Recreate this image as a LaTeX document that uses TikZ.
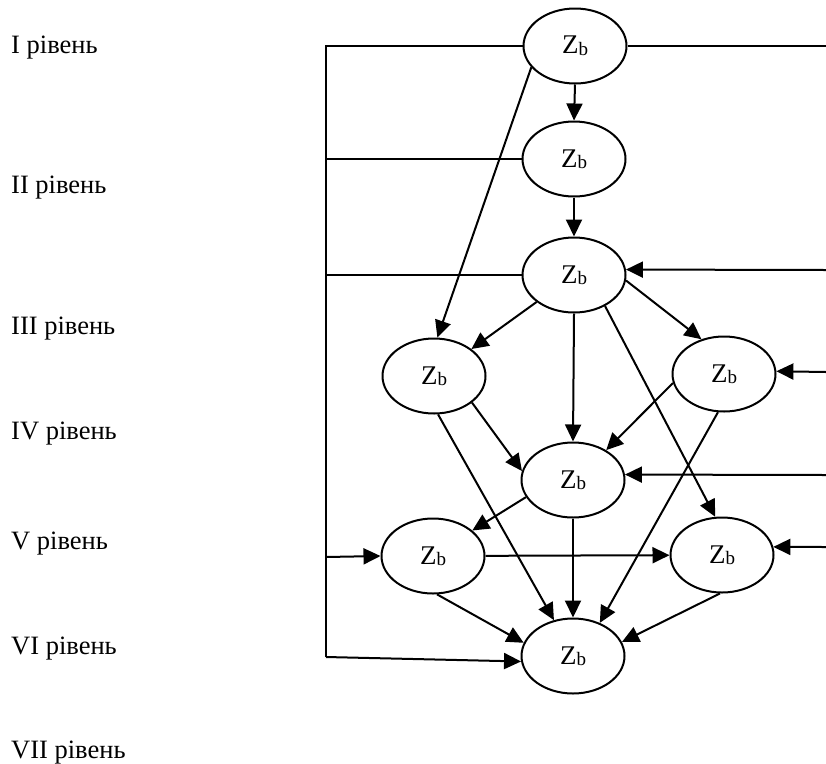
\documentclass[tikz,border=0pt]{standalone}
\usepackage{fontspec}
\setmainfont{Liberation Serif}
\usetikzlibrary{shapes.geometric,arrows.meta}
\newcommand\Zsub{Z\raisebox{-1.5pt}{\fontsize{19}{19}\selectfont b}}
\begin{document}
\begin{tikzpicture}[x=1pt,y=-1pt,
  zb/.style={ellipse,draw,line width=2pt,minimum width=103pt,minimum height=75pt,inner sep=0pt,font=\fontsize{27}{30}\selectfont},
  conn/.style={line width=2pt},
  arr/.style={line width=2pt,-{Triangle[length=17pt,width=16pt]}},
  lvl/.style={anchor=base west,font=\fontsize{26.5}{30}\selectfont,inner sep=0pt}]
\useasboundingbox (0,0) rectangle (826,763);

% level labels
\node[lvl] (l1) at (11,53) {I рівень};
\node[lvl] (l2) at (11,193) {II рівень};
\node[lvl] (l3) at (11,334) {III рівень};
\node[lvl] (l4) at (11,439) {IV рівень};
\node[lvl] (l5) at (11,549) {V рівень};
\node[lvl] (l6) at (11,654) {VI рівень};
\node[lvl] (l7) at (11,758) {VII рівень};

% ellipses
\node[zb] (e1) at (575,46) {\Zsub};
\node[zb] (e2) at (574,159) {\Zsub};
\node[zb] (e3) at (574,275) {\Zsub};
\node[zb] (e4) at (434,376) {\Zsub};
\node[zb] (e5) at (724,374) {\Zsub};
\node[zb] (e6) at (573,480) {\Zsub};
\node[zb] (e7) at (433,556) {\Zsub};
\node[zb] (e8) at (722,555) {\Zsub};
\node[zb] (e9) at (573,656) {\Zsub};

% left bus
\coordinate (bt) at (326,46);
\coordinate (bm2) at (326,159);
\coordinate (bm3) at (326,275);
\coordinate (b7) at (326,557);
\coordinate (bb) at (326,657);
\draw[conn] (e1.west) -- (bt) -- (bb);
\draw[conn] (e2.west) -- (bm2);
\draw[conn] (e3.west) -- (bm3);
\draw[arr] (b7) -- (e7.west);
\draw[arr] (bb) -- (e9.186);

% right side
\coordinate (r1) at (826,46);
\coordinate (r3) at (826,270);
\coordinate (r5) at (826,372);
\coordinate (r6) at (826,475);
\coordinate (r8) at (826,547);
\draw[conn] (e1.east) -- (r1);
\draw[arr] (r3) -- (e3.6);
\draw[arr] (r5) -- (e5.3);
\draw[arr] (r6) -- (e6.6);
\draw[arr] (r8) -- (e8.9);

% internal arrows
\draw[arr] (e1.south) -- (e2.north);
\draw[arr] (e1.206) -- (e4.85);
\draw[arr] (e2.south) -- (e3.north);
\draw[arr] (e3) -- (e4);
\draw[arr] (e3.-6) -- (e5.123);
\draw[arr] (e3.south) -- (e6.north);
\draw[arr] (e3.-45) -- (e8.100);
\draw[arr] (e4.-35) -- (e6.170);
\draw[arr] (e4.-84) -- (e9.118);
\draw[arr] (e5.190) -- (e6.42);
\draw[arr] (e5.261) -- (e9.51);
\draw[arr] (e6.200) -- (e7.33);
\draw[arr] (e6.south) -- (e9.north);
\draw[arr] (e7) -- (e8);
\draw[arr] (e7.-84) -- (e9.165);
\draw[arr] (e8.267) -- (e9.16);
\end{tikzpicture}
\end{document}
